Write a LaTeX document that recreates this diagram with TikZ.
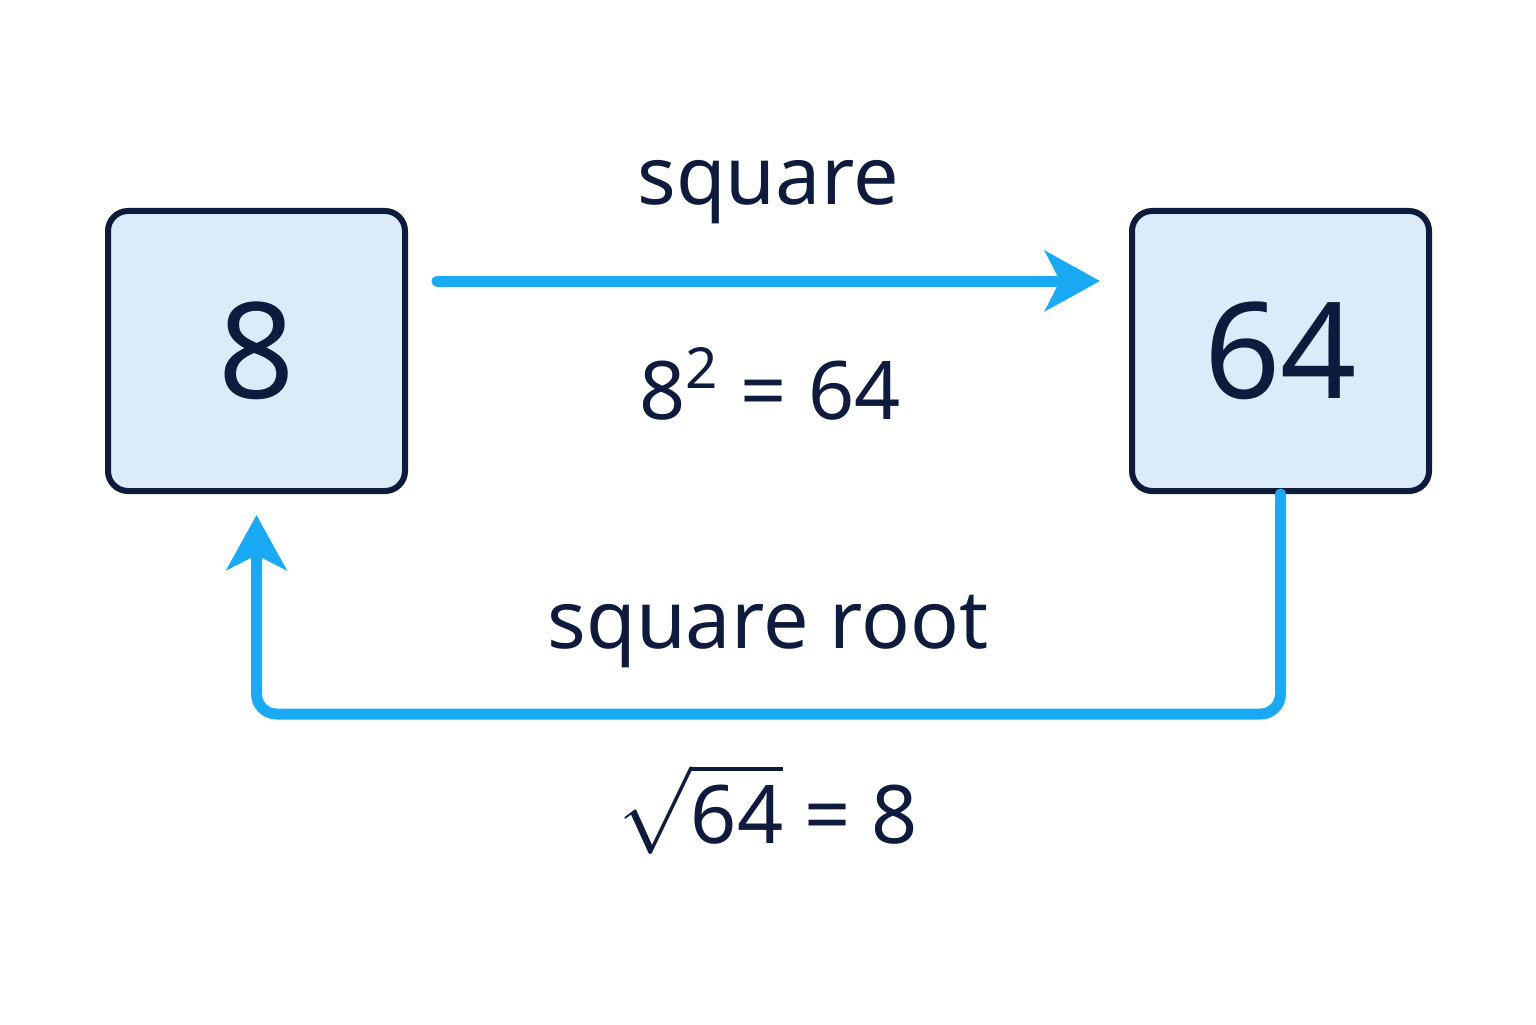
\documentclass[tikz,border=0pt]{standalone}
\usepackage{amsmath}
\usepackage{fontspec}
\setmainfont{Noto Sans}
\usetikzlibrary{arrows.meta,positioning}
\definecolor{navy}{HTML}{0F1B3D}
\definecolor{boxfill}{HTML}{DCEBFA}
\definecolor{flow}{HTML}{1AAAF5}
\tikzstyle{number} = [rectangle, rounded corners=0.2cm,
minimum width=2.97cm,
minimum height=2.8cm,
text centered,
line width=0.6mm,
draw=navy,
fill=boxfill,
text=navy,
font=\fontsize{38}{42}\selectfont\bfseries]
\tikzstyle{label} = [text=navy, font=\fontsize{23}{26}\selectfont]
\tikzstyle{arrow} = [line width=1.1mm, draw=flow, line cap=round, rounded corners=0.2cm,
-{Stealth[length=5.5mm,width=6mm,inset=1.5mm]}]

\begin{document}
\begin{tikzpicture}[node distance=10.24cm]
\useasboundingbox (0,0) rectangle (15.36,10.24);

\node (box8) [number] at (2.565,6.73) {8};
\node (box64) [number, right of=box8] {64};

\node (sq) [label] at (7.68,8.32) {square};
\node (sqeq) [label] at (7.70,6.40) {8\textsuperscript{2} = 64};
\node (rt) [label] at (7.68,3.92) {square root};
\node (rteq) [label] at (7.68,2.15) {$\sqrt{\text{64}}$ = 8};

\coordinate (topL) at (4.37,7.43);
\coordinate (topR) at (11.00,7.43);
\coordinate (tip8) at (2.565,5.09);

\draw [arrow] (topL) -- (topR);
\draw [arrow] (box64.south) -- ++(0,-2.2) -| (tip8);

\end{tikzpicture}
\end{document}
